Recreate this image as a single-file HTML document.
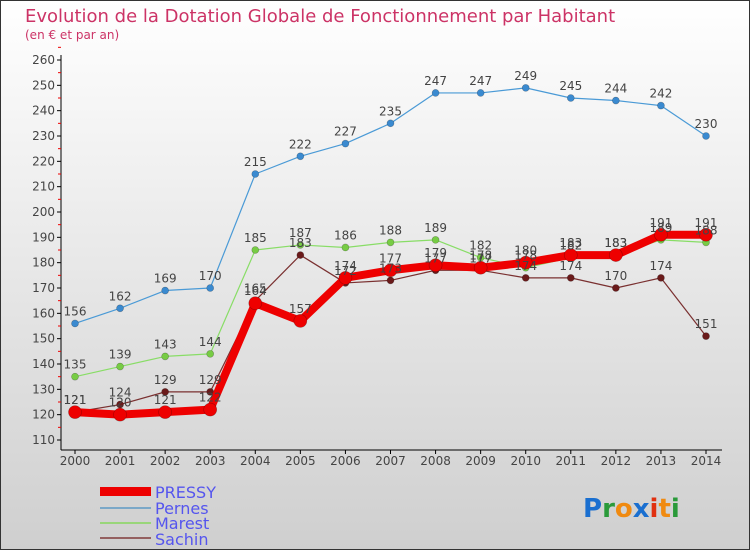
<!DOCTYPE html>
<html><head><meta charset="utf-8"><style>
body{margin:0;}
svg text{font-family:"DejaVu Sans","Liberation Sans",sans-serif;}
</style></head><body>
<svg id="c" width="750" height="550" xmlns="http://www.w3.org/2000/svg">
<defs><linearGradient id="bg" x1="0" y1="0" x2="0" y2="1"><stop offset="0" stop-color="#ffffff"/><stop offset="1" stop-color="#cfcfcf"/></linearGradient></defs>
<rect x="0.5" y="0.5" width="749" height="549" fill="url(#bg)" stroke="#333"/>
<text x="25" y="22" font-size="18" font-family="Liberation Sans" fill="#cc3366">Evolution de la Dotation Globale de Fonctionnement par Habitant</text>
<text x="25" y="39" font-size="12" font-family="Liberation Sans" fill="#cc3366">(en € et par an)</text>
<g id="axes"></g><g id="series"></g><g id="labels"></g>
<g>
<rect x="100" y="487" width="51" height="9" fill="#ee0000"/>
<text x="155" y="498" font-size="16" fill="#5555ee">PRESSY</text>
<rect x="100" y="507" width="51" height="2" fill="#7ba8c8"/>
<text x="155" y="514" font-size="16" fill="#5555ee">Pernes</text>
<rect x="100" y="522" width="51" height="2" fill="#99d67a"/>
<text x="155" y="529" font-size="16" fill="#5555ee">Marest</text>
<rect x="100" y="537" width="51" height="2" fill="#946060"/>
<text x="155" y="545" font-size="16" fill="#5555ee">Sachin</text>
</g>
<text x="583" y="517" font-size="26" font-weight="bold"><tspan fill="#1a6fd0">P</tspan><tspan fill="#2a9a3a">r</tspan><tspan fill="#f08a10">o</tspan><tspan fill="#1a6fd0">x</tspan><tspan fill="#e03010">i</tspan><tspan fill="#f08a10">t</tspan><tspan fill="#2a9a3a">i</tspan></text>
</svg>
<script>
const years=[2000,2001,2002,2003,2004,2005,2006,2007,2008,2009,2010,2011,2012,2013,2014];
const pressy=[121,120,121,122,164,157,174,177,179,178,180,183,183,191,191];
const pernes=[156,162,169,170,215,222,227,235,247,247,249,245,244,242,230];
const marest=[135,139,143,144,185,187,186,188,189,182,178,182,183,189,188];
const sachin=[121,124,129,129,165,183,172,173,177,177,174,174,170,174,151];
const yTicks=[110,120,130,140,150,160,170,180,190,200,210,220,230,240,250,260];
const NS='http://www.w3.org/2000/svg';
const X=i=>75+i*(631/14);
const Y=v=>440-(v-110)*(380/150);
function mk(tag,attrs,parent){const e=document.createElementNS(NS,tag);for(const k in attrs)e.setAttribute(k,attrs[k]);parent.appendChild(e);return e;}
const ax=document.getElementById('axes');
let l=mk('line',{x1:61,y1:55,x2:61,y2:450,stroke:'#000'},ax);


l=mk('line',{x1:61,y1:450,x2:722,y2:450,stroke:'#000'},ax);


yTicks.forEach(v=>{
  mk('line',{x1:57,y1:Y(v),x2:61,y2:Y(v),stroke:'#000'},ax);
  mk('line',{x1:58,y1:Y(v+5),x2:61,y2:Y(v+5),stroke:'#e00'},ax);
  const t=mk('text',{x:55,y:Y(v)+4,'font-size':12,fill:'#444','text-anchor':'end'},ax);
  t.textContent=v;
  
  
});
years.forEach((yr,i)=>{
  mk('line',{x1:X(i),y1:450,x2:X(i),y2:454,stroke:'#000'},ax);
  const t=mk('text',{x:X(i),y:465,'font-size':12,fill:'#444','text-anchor':'middle'},ax);
  t.textContent=yr;
  
  
});
const sg=document.getElementById('series'),lg=document.getElementById('labels');
function draw(data,name,color,dot,w,r){
  const g=mk('g',{},sg);
  
  
  const p=mk('polyline',{points:data.map((v,i)=>X(i)+','+Y(v)).join(' '),fill:'none',stroke:color,'stroke-width':w,'stroke-linejoin':'round'},g);
  
  
  data.forEach((v,i)=>{
    const c=mk('circle',{cx:X(i),cy:Y(v),r:r,fill:dot,stroke:'rgba(0,0,0,0.3)','stroke-width':0.6},g);
    
    
    const t=mk('text',{x:X(i),y:Y(v)-8,'font-size':12,fill:'#444','text-anchor':'middle'},lg);
    t.textContent=v;
    
    
  });
}
draw(pernes,'pernes','#4a9ad6','#3a8ad0',1.2,3.5);
draw(marest,'marest','#88dd66','#77cc44',1.2,3.5);
draw(sachin,'sachin','#7a3030','#6a1a1a',1.2,3.5);
draw(pressy,'pressy','#ee0000','#ee0000',8,6.5);
</script>
</body></html>
